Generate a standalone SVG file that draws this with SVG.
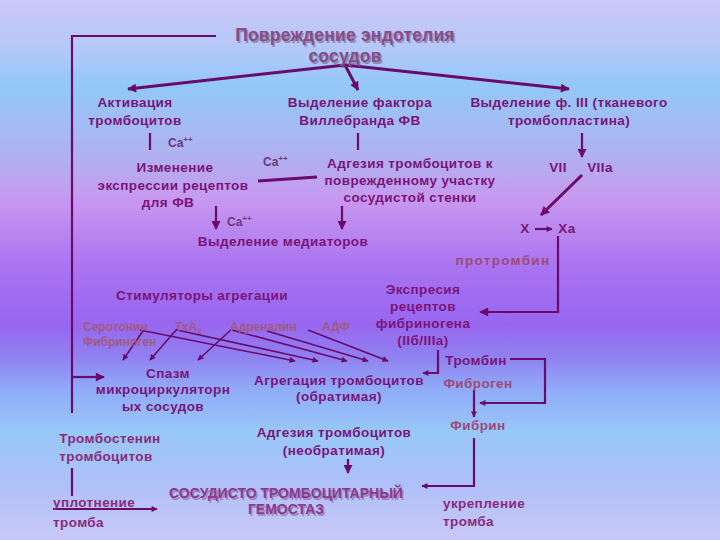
<svg xmlns="http://www.w3.org/2000/svg" width="720" height="540" viewBox="0 0 720 540">
<defs>
<linearGradient id="bg" x1="0" y1="0" x2="0" y2="1">
<stop offset="0" stop-color="#cac8f8"/>
<stop offset="0.08" stop-color="#b8c8f8"/>
<stop offset="0.16" stop-color="#92c8f8"/>
<stop offset="0.25" stop-color="#a8b8f4"/>
<stop offset="0.32" stop-color="#b8a8f0"/>
<stop offset="0.37" stop-color="#c898f0"/>
<stop offset="0.5" stop-color="#a872f0"/>
<stop offset="0.6" stop-color="#9866f0"/>
<stop offset="0.66" stop-color="#9080f0"/>
<stop offset="0.72" stop-color="#90aaf8"/>
<stop offset="0.8" stop-color="#98c8f8"/>
<stop offset="0.9" stop-color="#b0c0f8"/>
<stop offset="1" stop-color="#c8c8f8"/>
</linearGradient>
<marker id="ah" viewBox="0 0 10 10" refX="9" refY="5" markerWidth="10" markerHeight="9" markerUnits="userSpaceOnUse" orient="auto">
<path d="M0,0 L10,5 L0,10 z" fill="#6a0a6a"/>
</marker>
<marker id="ahs" viewBox="0 0 10 10" refX="9" refY="5" markerWidth="7" markerHeight="6" markerUnits="userSpaceOnUse" orient="auto">
<path d="M0,0 L10,5 L0,10 z" fill="#6a0a6a"/>
</marker>
</defs>
<style>
text{font-family:"Liberation Sans",Arial,sans-serif;font-weight:bold;font-size:13.5px;letter-spacing:0.4px;fill:#7a1478;text-anchor:middle}
.t{font-size:17.5px;letter-spacing:0.2px;fill:#8a4a88}
.sh{fill:#5a4a6a;opacity:0.45}
.big{font-size:14px;letter-spacing:0;fill:#8a3a8a}
.ca{font-size:12px;letter-spacing:0;fill:#6a3a7a;text-anchor:start}
.sup{font-size:8px}
.br{fill:#9c4a78}
.sp{letter-spacing:1.3px}
.st{font-size:12px;letter-spacing:0;fill:#a05a80;text-anchor:start}
.pk{fill:#8a2a7a}
.l{text-anchor:start}
.c{fill:none;stroke:#6a0a6a;stroke-width:2.2}
.thick{stroke-width:3}
.thin{stroke-width:1.6}
</style>
<rect width="720" height="540" fill="url(#bg)"/>

<g id="connectors">
<polyline class="c" points="216,36 72,36 72,413"/>
<line class="c" x1="72" y1="377" x2="104" y2="377" marker-end="url(#ah)"/>
<line class="c thick" x1="345" y1="65" x2="128" y2="89" marker-end="url(#ah)"/>
<line class="c thick" x1="345" y1="65" x2="358" y2="90" marker-end="url(#ah)"/>
<line class="c thick" x1="345" y1="65" x2="569" y2="89" marker-end="url(#ah)"/>
<line class="c" x1="150" y1="133" x2="150" y2="150"/>
<line class="c" x1="358" y1="133" x2="358" y2="150"/>
<line class="c" x1="582" y1="133" x2="582" y2="157" marker-end="url(#ah)"/>
<line class="c thick" x1="258" y1="181" x2="317" y2="177"/>
<line class="c" x1="216" y1="206" x2="216" y2="229" marker-end="url(#ah)"/>
<line class="c" x1="342" y1="206" x2="342" y2="229" marker-end="url(#ah)"/>
<line class="c thick" x1="582" y1="175" x2="541" y2="215" marker-end="url(#ah)"/>
<line class="c" x1="535" y1="229" x2="552" y2="229" marker-end="url(#ahs)"/>
<polyline class="c" points="558,236 558,312 480,312" marker-end="url(#ah)"/>
<line class="c thin" x1="143" y1="331" x2="123" y2="360" marker-end="url(#ahs)"/>
<line class="c thin" x1="140" y1="330" x2="295" y2="361" marker-end="url(#ahs)"/>
<line class="c thin" x1="177" y1="329" x2="150" y2="360" marker-end="url(#ahs)"/>
<line class="c thin" x1="177" y1="330" x2="318" y2="361" marker-end="url(#ahs)"/>
<line class="c thin" x1="232" y1="329" x2="198" y2="360" marker-end="url(#ahs)"/>
<line class="c thin" x1="232" y1="330" x2="347" y2="361" marker-end="url(#ahs)"/>
<line class="c thin" x1="267" y1="331" x2="368" y2="361" marker-end="url(#ahs)"/>
<line class="c thin" x1="308" y1="330" x2="388" y2="361" marker-end="url(#ahs)"/>
<polyline class="c" points="438,350 438,373 423,373" marker-end="url(#ahs)"/>
<polyline class="c" points="510,359 545,359 545,403 480,403" marker-end="url(#ahs)"/>
<line class="c" x1="474" y1="390" x2="474" y2="417" marker-end="url(#ahs)"/>
<polyline class="c" points="474,438 474,486 422,486" marker-end="url(#ahs)"/>
<line class="c" x1="72" y1="468" x2="72" y2="496"/>
<line class="c" x1="53" y1="509" x2="157" y2="509" marker-end="url(#ahs)"/>
<line class="c" x1="348" y1="459" x2="348" y2="473" marker-end="url(#ah)"/>
</g>

<g id="title">
<text class="t sh" x="346.5" y="42.5">Повреждение эндотелия</text>
<text class="t sh" x="346.5" y="63.5">сосудов</text>
<text class="t" x="345" y="41">Повреждение эндотелия</text>
<text class="t" x="345" y="62">сосудов</text>
</g>
<g id="activation"><text x="135" y="107">Активация</text><text x="135" y="125">тромбоцитов</text></g>
<g id="vwf"><text x="360" y="107">Выделение фактора</text><text x="360" y="125">Виллебранда ФВ</text></g>
<g id="f3"><text x="569" y="107">Выделение ф. III (тканевого</text><text x="569" y="125">тромбопластина)</text></g>
<g id="ca1"><text class="ca" x="168" y="147">Ca<tspan class="sup" dy="-5">++</tspan></text></g>
<g id="expr"><text x="175" y="172">Изменение</text><text x="173" y="190">экспрессии рецептов</text><text x="168" y="207">для ФВ</text></g>
<g id="ca2"><text class="ca" x="263" y="166">Ca<tspan class="sup" dy="-5">++</tspan></text></g>
<g id="adh"><text x="410" y="168">Адгезия тромбоцитов к</text><text x="410" y="185">поврежденному участку</text><text x="410" y="202">сосудистой стенки</text></g>
<g id="ca3"><text class="ca" x="227" y="226">Ca<tspan class="sup" dy="-5">++</tspan></text></g>
<g id="mediators"><text x="283" y="246">Выделение медиаторов</text></g>
<g id="vii"><text x="558" y="172">VII</text><text x="600" y="172">VIIa</text></g>
<g id="x"><text x="525" y="233">X</text><text x="567" y="233">Xa</text></g>
<g id="prothrombin"><text class="br sp" x="503" y="265">протромбин</text></g>
<g id="stim"><text x="202" y="300">Стимуляторы агрегации</text></g>
<g id="agents">
<text class="st" x="83" y="331">Серотонин</text>
<text class="st" x="175" y="331">ТхА<tspan font-size="8" dy="3">2</tspan></text>
<text class="st" x="230" y="331">Адреналин</text>
<text class="st" x="322" y="331">АДФ</text>
<text class="st" x="83" y="346">Фибриноген</text>
</g>
<g id="receptors"><text x="423" y="294">Экспресия</text><text x="423" y="311">рецептов</text><text x="423" y="328">фибриногена</text><text x="423" y="345">(IIб/IIIa)</text></g>
<g id="thrombin"><text x="476" y="365">Тромбин</text></g>
<g id="fibrogen"><text class="br" x="478" y="388">Фиброген</text></g>
<g id="fibrin"><text class="br" x="478" y="430">Фибрин</text></g>
<g id="spasm"><text x="168" y="378">Спазм</text><text x="163" y="394">микроциркуляторн</text><text x="163" y="411">ых сосудов</text></g>
<g id="aggreg"><text x="339" y="385">Агрегация тромбоцитов</text><text x="339" y="401">(обратимая)</text></g>
<g id="thrombostenin"><text class="pk" x="110" y="443">Тромбостенин</text><text class="pk" x="106" y="461">тромбоцитов</text></g>
<g id="adh2"><text x="334" y="437">Адгезия тромбоцитов</text><text x="334" y="455">(необратимая)</text></g>
<g id="compaction"><text class="pk l" x="53" y="507">уплотнение</text><text class="pk l" x="53" y="527">тромба</text></g>
<g id="hemostasis">
<text class="big sh" x="287.5" y="499.5">СОСУДИСТО ТРОМБОЦИТАРНЫЙ</text>
<text class="big sh" x="287.5" y="515.5">ГЕМОСТАЗ</text>
<text class="big" x="286" y="498">СОСУДИСТО ТРОМБОЦИТАРНЫЙ</text>
<text class="big" x="286" y="514">ГЕМОСТАЗ</text>
</g>
<g id="strengthen"><text class="pk l" x="443" y="508">укрепление</text><text class="pk l" x="443" y="526">тромба</text></g>
</svg>
